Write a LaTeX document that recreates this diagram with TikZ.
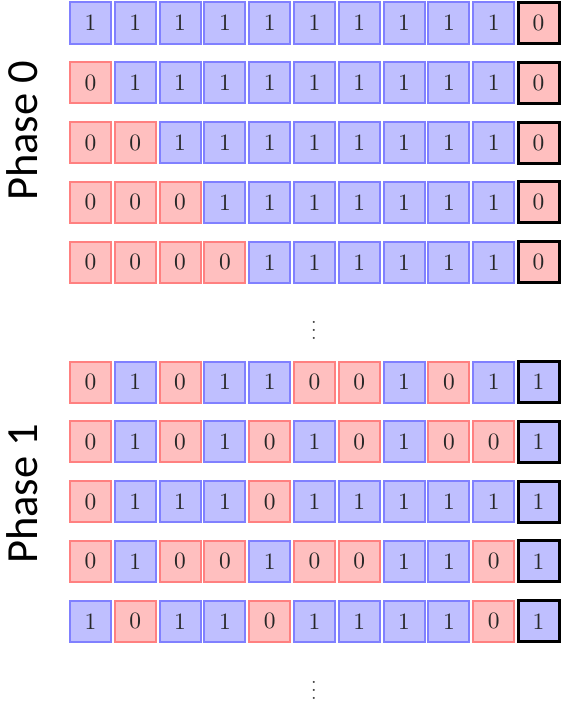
\documentclass[tikz,border=0pt]{standalone}
\usepackage{fontspec}
\newfontfamily\phasefont{Carlito}
\newcommand{\bv}[1]{\scalebox{2}{#1}}
\newcommand{\dv}{\scalebox{1.7}{$\vdots$}}
\tikzset{
  bit/.style  = {draw, rectangle, minimum size=1.23cm, inner sep=0pt,
                 line width=0.06cm, text=black!85, font=\normalsize},
  b1/.style   = {bit, draw=blue!50, fill=blue!25},
  b0/.style   = {bit, draw=red!50,  fill=red!25},
  chk/.style  = {draw=black, line width=0.09cm},
  ph/.style   = {font=\phasefont\fontsize{38}{38}\selectfont,
                 rotate=90, anchor=base, inner sep=0pt},
  more/.style = {font=\normalsize, text=black!75, inner sep=0pt},
}

\begin{document}
\begin{tikzpicture}[x=0.03cm, y=-0.03cm]
  \useasboundingbox (0,0) rectangle (564,702);

  % ===== phase 0 ========================================================
  \node[ph] (ph0) at (37,131) {Phase 0};
  \foreach \bits/\c [count=\r from 0] in {
      {1,1,1,1,1,1,1,1,1,1}/0,
      {0,1,1,1,1,1,1,1,1,1}/0,
      {0,0,1,1,1,1,1,1,1,1}/0,
      {0,0,0,1,1,1,1,1,1,1}/0,
      {0,0,0,0,1,1,1,1,1,1}/0} {
    \pgfmathsetmacro\y{23+59.8*\r}
    \foreach \b [count=\k from 0] in \bits
      \node[b\b] (p0-\r-\k) at ({90.5+44.8*\k},\y) {\bv{\b}};
    \node[b\c, chk] (p0-\r-c) at (538.5,\y) {\bv{\c}};
  }
  \node[more] (dots0) at (314,324) {\dv};

  % ===== phase 1 ========================================================
  \node[ph] (ph1) at (37,494) {Phase 1};
  \foreach \bits/\c [count=\r from 0] in {
      {0,1,0,1,1,0,0,1,0,1}/1,
      {0,1,0,1,0,1,0,1,0,0}/1,
      {0,1,1,1,0,1,1,1,1,1}/1,
      {0,1,0,0,1,0,0,1,1,0}/1,
      {1,0,1,1,0,1,1,1,1,0}/1} {
    \pgfmathsetmacro\y{382+59.8*\r}
    \foreach \b [count=\k from 0] in \bits
      \node[b\b] (p1-\r-\k) at ({90.5+44.8*\k},\y) {\bv{\b}};
    \node[b\c, chk] (p1-\r-c) at (538.5,\y) {\bv{\c}};
  }
  \node[more] (dots1) at (314,684) {\dv};

\end{tikzpicture}
\end{document}
